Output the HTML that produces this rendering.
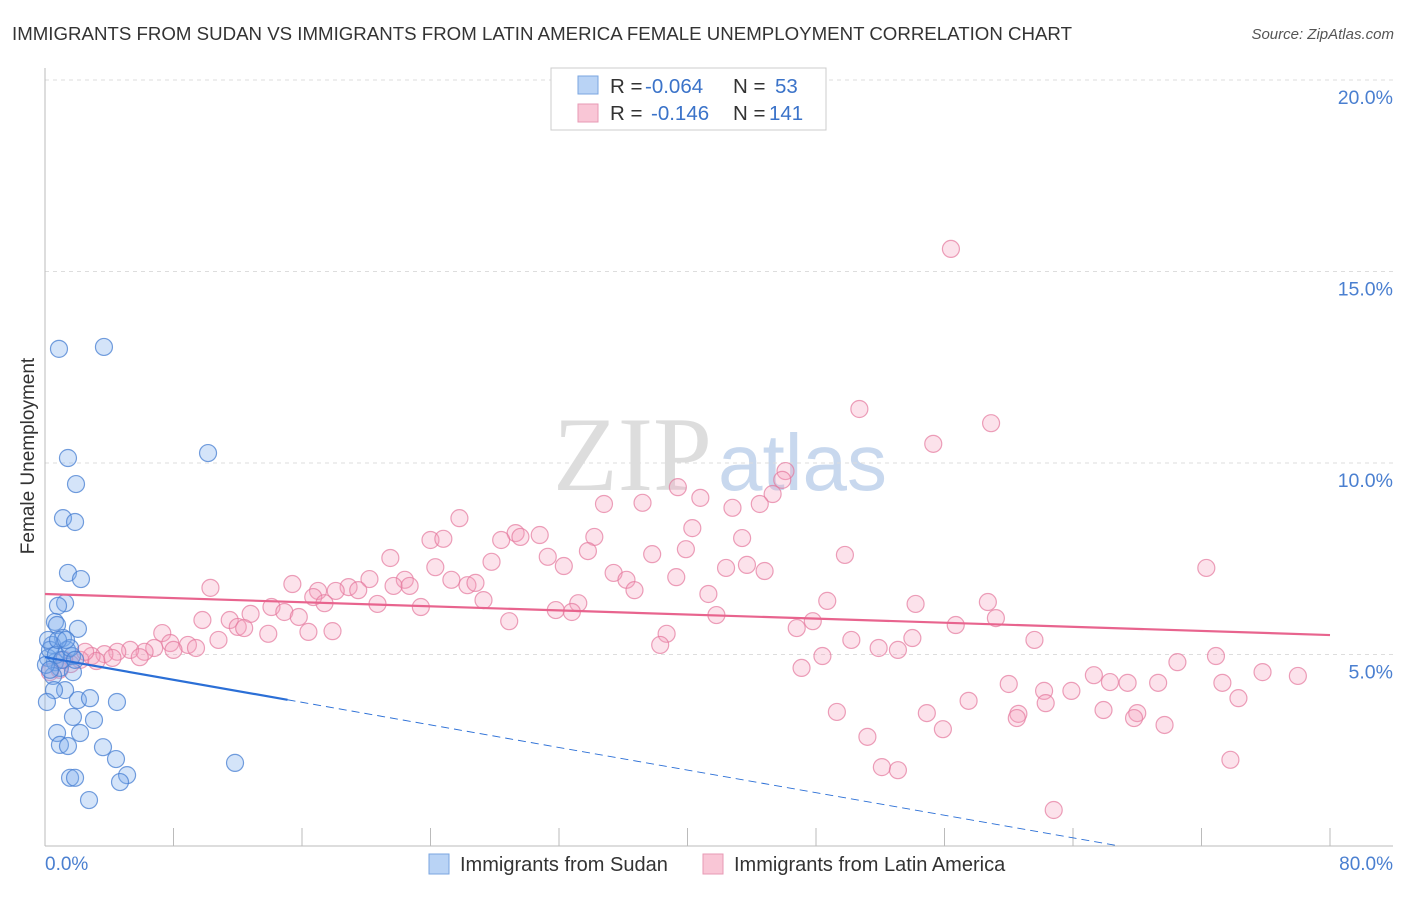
<!DOCTYPE html>
<html><head><meta charset="utf-8"><style>
body{margin:0;background:#fff;font-family:"Liberation Sans",sans-serif}
</style></head><body>
<svg id="c" width="1406" height="892" xmlns="http://www.w3.org/2000/svg">
<text x="12" y="40" font-size="18.5" fill="#333" textLength="1060" lengthAdjust="spacingAndGlyphs">IMMIGRANTS FROM SUDAN VS IMMIGRANTS FROM LATIN AMERICA FEMALE UNEMPLOYMENT CORRELATION CHART</text>
<text x="1394" y="39" font-size="15" fill="#555" font-style="italic" text-anchor="end">Source: ZipAtlas.com</text>
<g><text x="553" y="490" font-size="106" fill="#ddd" font-family="Liberation Serif">ZIP</text><text x="718" y="490" font-size="80" fill="#c8d8ee">atlas</text></g>
<g id="grid"></g><g id="axes"></g><g id="pts"></g><g id="lines"></g>
<text x="34" y="456" font-size="19" fill="#333" text-anchor="middle" transform="rotate(-90 34 456)">Female Unemployment</text>
<text x="45" y="870" font-size="19" fill="#4a7fd0">0.0%</text>
<text x="1393" y="870" font-size="19" fill="#4a7fd0" text-anchor="end">80.0%</text>
<g>
<rect x="551" y="68" width="275" height="62" fill="#fff" stroke="#ccc"/>
<rect x="578" y="76" width="20" height="18" fill="#b9d3f5" stroke="#7aa6e0"/>
<rect x="578" y="104" width="20" height="18" fill="#f9c6d6" stroke="#e79ab4"/>
<text x="610" y="93" font-size="20.5" fill="#333">R = <tspan fill="#3b73c9" x="645">-0.064</tspan><tspan x="733">N = </tspan><tspan fill="#3b73c9" x="775">53</tspan></text>
<text x="610" y="120" font-size="20.5" fill="#333">R = <tspan fill="#3b73c9" x="651">-0.146</tspan><tspan x="733">N = </tspan><tspan fill="#3b73c9" x="769">141</tspan></text>
</g>
<g>
<rect x="429" y="854" width="20" height="20" fill="#b9d3f5" stroke="#7aa6e0"/>
<text x="460" y="871" font-size="20" fill="#333">Immigrants from Sudan</text>
<rect x="703" y="854" width="20" height="20" fill="#f9c6d6" stroke="#e79ab4"/>
<text x="734" y="871" font-size="20" fill="#333">Immigrants from Latin America</text>
</g>
</svg>
<script>
const yTicks=[5,10,15,20];
const yTickLabels=["5.0%","10.0%","15.0%","20.0%"];
const sudanX=[0.87,3.67,1.43,10.15,1.93,1.12,1.87,1.43,2.24,1.25,0.81,0.62,0.75,2.05,1.12,0.44,1.37,0.19,0.62,1.68,0.93,0.5,1.74,1.25,2.05,2.8,4.48,1.74,3.05,2.18,0.75,0.93,1.43,3.61,4.42,11.83,1.56,1.87,5.11,4.67,2.74,0.31,0.06,0.19,0.68,1.06,1.56,0.81,0.31,1.31,1.87,0.56,0.12];
const sudanY=[12.98,13.03,10.13,10.26,9.45,8.56,8.46,7.13,6.97,6.34,6.27,5.85,5.77,5.67,5.43,5.25,5.12,4.91,4.8,4.96,4.65,4.44,4.54,4.07,3.81,3.86,3.76,3.37,3.29,2.95,2.95,2.64,2.61,2.58,2.27,2.17,1.78,1.78,1.85,1.67,1.2,5.12,4.73,5.38,4.99,4.86,5.17,5.38,4.6,5.38,4.86,4.07,3.76];
const latinX=[56.4,50.7,58.9,55.3,46.1,45.9,39.4,45.3,40.8,34.8,37.2,42.8,44.5,25.8,40.3,29.3,30.8,34.2,29.6,28.4,43.4,24.0,24.8,39.9,37.8,33.8,31.3,49.8,27.8,21.5,32.3,42.4,43.7,44.8,35.4,24.3,72.3,39.3,36.2,20.2,25.3,22.4,26.3,21.7,22.7,10.3,15.4,18.9,19.5,26.8,17.0,36.7,16.7,18.1,41.3,27.3,20.7,17.4,31.8,33.2,32.8,58.7,54.2,48.7,23.4,14.1,12.8,14.9,15.8,11.5,9.8,28.9,41.8,59.2,47.8,46.8,56.7,16.4,13.9,17.9,12.0,12.4,7.3,38.7,54.0,61.6,50.2,51.9,38.3,10.8,8.9,7.8,6.8,6.2,5.3,4.5,3.7,2.9,2.2,1.6,3.2,4.2,5.9,8.0,9.4,48.4,72.9,53.1,70.5,47.1,75.8,78.0,65.3,60.0,63.9,66.3,67.4,69.3,73.3,62.2,57.5,74.3,62.3,49.3,65.9,54.9,60.6,68.0,67.8,60.5,69.7,55.9,51.2,73.8,52.1,53.1,62.8,0.9,0.3,1.2,2.5];
const latinY=[15.59,11.41,11.04,10.5,9.79,9.56,9.37,9.19,9.09,8.93,8.96,8.83,8.93,8.56,8.3,8.17,8.12,8.07,8.07,7.99,8.04,7.99,8.02,7.75,7.62,7.7,7.55,7.6,7.42,7.52,7.31,7.26,7.34,7.18,7.13,7.28,7.26,7.02,6.95,6.97,6.95,6.95,6.81,6.79,6.79,6.74,6.84,6.76,6.68,6.87,6.66,6.68,6.5,6.66,6.58,6.42,6.32,6.34,6.16,6.34,6.11,6.37,6.32,6.4,6.24,6.24,6.06,6.11,5.98,5.9,5.9,5.87,6.03,5.95,5.87,5.69,5.77,5.59,5.54,5.61,5.72,5.69,5.56,5.54,5.43,5.38,5.38,5.17,5.25,5.38,5.25,5.3,5.17,5.07,5.12,5.07,5.01,4.96,4.86,4.75,4.83,4.91,4.93,5.12,5.17,4.96,4.96,5.12,4.8,4.65,4.54,4.44,4.46,4.23,4.05,4.28,4.26,4.26,4.26,4.05,3.79,3.86,3.73,3.5,3.55,3.47,3.45,3.47,3.34,3.34,3.16,3.05,2.85,2.25,2.06,1.98,0.94,4.6,4.54,4.86,5.07];
const sudanTrend=[4.93,-0.0737];
const latinTrend=[6.58,-0.0134];
const NS="http://www.w3.org/2000/svg";
const X=v=>45+v*1285/80, Y=v=>846-v*38.3;
function mk(p,t,a){const e=document.createElementNS(NS,t);for(const k in a)e.setAttribute(k,a[k]);document.getElementById(p).appendChild(e);return e;}
yTicks.forEach((t,i)=>{
 const l=mk('grid','line',{x1:45,x2:1393,y1:Y(t),y2:Y(t),stroke:'#ddd','stroke-dasharray':'4,4'});
 
 
 const tx=mk('grid','text',{x:1393,y:Y(t)+24,'font-size':19.5,fill:'#4a7fd0','text-anchor':'end'});
 tx.textContent=yTickLabels[i];
 
 
});
const ax=mk('axes','line',{x1:45,x2:45,y1:68,y2:846,stroke:'#bbb'});


const bx=mk('axes','line',{x1:45,x2:1393,y1:846,y2:846,stroke:'#bbb'});


for(let i=0;i<=10;i++){
 const t=mk('axes','line',{x1:X(i*8),x2:X(i*8),y1:828,y2:846,stroke:'#bbb'});
 
 
}
latinX.forEach((v,i)=>{
 const c=mk('pts','circle',{cx:X(v),cy:Y(latinY[i]),r:8.5,fill:'rgba(244,160,188,0.3)',stroke:'rgba(228,120,156,0.7)','stroke-width':1.2});
 
 
});
sudanX.forEach((v,i)=>{
 const c=mk('pts','circle',{cx:X(v),cy:Y(sudanY[i]),r:8.5,fill:'rgba(120,170,235,0.32)',stroke:'rgba(70,125,210,0.75)','stroke-width':1.2});
 
 
});
const lt=mk('lines','line',{x1:X(0),y1:Y(latinTrend[0]),x2:X(80),y2:Y(latinTrend[0]+latinTrend[1]*80),stroke:'#e8648e','stroke-width':2.2});


const sEnd=15.1, sZero=-sudanTrend[0]/sudanTrend[1];
const st=mk('lines','line',{x1:X(0),y1:Y(sudanTrend[0]),x2:X(sEnd),y2:Y(sudanTrend[0]+sudanTrend[1]*sEnd),stroke:'#2b6fd6','stroke-width':2.2});


const sd=mk('lines','line',{x1:X(sEnd),y1:Y(sudanTrend[0]+sudanTrend[1]*sEnd),x2:X(sZero),y2:Y(0),stroke:'#2b6fd6','stroke-width':1,'stroke-dasharray':'8,5'});


</script>
</body></html>
